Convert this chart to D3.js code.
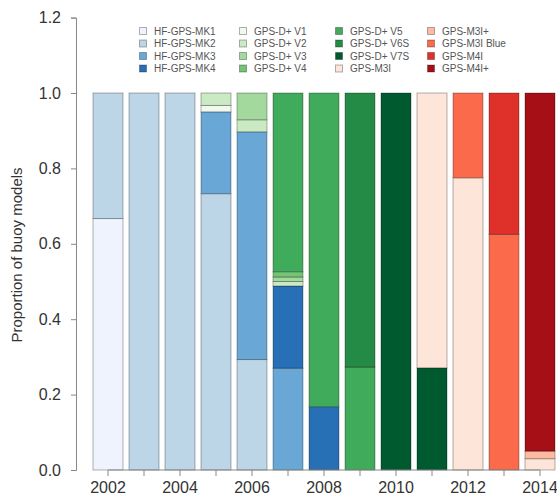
<!DOCTYPE html>
<html>
<head>
<meta charset="utf-8">
<script src="https://cdn.jsdelivr.net/npm/d3@7"></script>
<style>
  body { margin: 0; background: #fff; }
  text { font-family: "Liberation Sans", Arial, sans-serif; }
</style>
</head>
<body>
<div id="chart"></div>
<script>
// Years on the x axis
const years = [2002, 2003, 2004, 2005, 2006, 2007, 2008, 2009, 2010, 2011, 2012, 2013, 2014];
const yearLabels = [2002, 2004, 2006, 2008, 2010, 2012, 2014];
const yTicks = [0, 0.2, 0.4, 0.6, 0.8, 1.0, 1.2];

// Buoy models, stacked from bottom to top in this order
const models = [
  "HF-GPS-MK1", "HF-GPS-MK2", "HF-GPS-MK3", "HF-GPS-MK4",
  "GPS-D+ V1", "GPS-D+ V2", "GPS-D+ V3", "GPS-D+ V4",
  "GPS-D+ V5", "GPS-D+ V6S", "GPS-D+ V7S", "GPS-M3I",
  "GPS-M3I+", "GPS-M3I Blue", "GPS-M4I", "GPS-M4I+"
];
const colors = [
  "#eef3fd", "#bcd6e8", "#69a8d6", "#2870b5",
  "#f0f9ec", "#c9eac2", "#a3d99c", "#74c476",
  "#3fab5b", "#248b46", "#005a30", "#fde5d9",
  "#fcbba1", "#fb6a4a", "#e0302a", "#a50f15"
];

// Proportion of each model per year (one array per model)
const mk1    = [0.667, 0, 0, 0, 0, 0, 0, 0, 0, 0, 0, 0, 0];
const mk2    = [0.333, 1, 1, 0.733, 0.293, 0, 0, 0, 0, 0, 0, 0, 0];
const mk3    = [0, 0, 0, 0.217, 0.604, 0.270, 0, 0, 0, 0, 0, 0, 0];
const mk4    = [0, 0, 0, 0, 0, 0.218, 0.168, 0, 0, 0, 0, 0, 0];
const v1     = [0, 0, 0, 0.017, 0, 0, 0, 0, 0, 0, 0, 0, 0];
const v2     = [0, 0, 0, 0.033, 0.032, 0.012, 0, 0, 0, 0, 0, 0, 0];
const v3     = [0, 0, 0, 0, 0.071, 0.012, 0, 0, 0, 0, 0, 0, 0];
const v4     = [0, 0, 0, 0, 0, 0.014, 0, 0, 0, 0, 0, 0, 0];
const v5     = [0, 0, 0, 0, 0, 0.474, 0.832, 0.273, 0, 0, 0, 0, 0];
const v6s    = [0, 0, 0, 0, 0, 0, 0, 0.727, 0, 0, 0, 0, 0];
const v7s    = [0, 0, 0, 0, 0, 0, 0, 0, 1, 0.271, 0, 0, 0];
const m3i    = [0, 0, 0, 0, 0, 0, 0, 0, 0, 0.729, 0.775, 0, 0.03];
const m3iP   = [0, 0, 0, 0, 0, 0, 0, 0, 0, 0, 0, 0, 0.02];
const m3iB   = [0, 0, 0, 0, 0, 0, 0, 0, 0, 0, 0.225, 0.625, 0];
const m4i    = [0, 0, 0, 0, 0, 0, 0, 0, 0, 0, 0, 0.375, 0];
const m4iP   = [0, 0, 0, 0, 0, 0, 0, 0, 0, 0, 0, 0, 0.95];
const series = [mk1, mk2, mk3, mk4, v1, v2, v3, v4, v5, v6s, v7s, m3i, m3iP, m3iB, m4i, m4iP];

const W = 557, H = 502;
const svg = d3.select("#chart").append("svg")
  .attr("width", W).attr("height", H);

// build table for the stack
const table = years.map((yr, i) => {
  const row = { year: yr };
  models.forEach((m, j) => row[m] = series[j][i]);
  return row;
});
const stacked = d3.stack().keys(models)(table);

const x = d3.scaleBand()
  .domain(years)
  .range([90, 558])
  .paddingInner(1 / 6)
  .paddingOuter(1 / 12);

const y = d3.scaleLinear()
  .domain([0, 1.2])
  .range([470, 17.6]);

// bars
svg.append("g")
  .selectAll("g")
  .data(stacked)
  .join("g")
  .attr("fill", (d, i) => colors[i])
  .selectAll("rect")
  .data(d => d.filter(s => s[1] - s[0] > 0))
  .join("rect")
  .attr("x", d => x(d.data.year))
  .attr("y", d => y(d[1]))
  .attr("width", x.bandwidth())
  .attr("height", d => y(d[0]) - y(d[1]))
  .attr("stroke", "#000")
  .attr("stroke-opacity", 0.3)
  .attr("stroke-width", 1);

// y axis
const yAxis = svg.append("g")
  .attr("transform", "translate(76,0)")
  .call(d3.axisLeft(y).tickValues(yTicks).tickFormat(d3.format(".1f")).tickSize(5).tickPadding(10));
yAxis.select(".domain").attr("stroke", "#888");
yAxis.selectAll(".tick line").attr("stroke", "#888");
yAxis.selectAll(".tick text")
  .attr("font-size", 16)
  .attr("fill", "#333")
  .attr("font-family", "Liberation Sans, Arial, sans-serif");

// x axis
const xAxis = svg.append("g")
  .attr("transform", "translate(0,470)")
  .call(d3.axisBottom(x).tickSize(6).tickPadding(6)
    .tickFormat(d => yearLabels.includes(d) ? d : ""));
xAxis.select(".domain").remove();
xAxis.append("line")
  .attr("x1", x(years[0]) + x.bandwidth() / 2)
  .attr("x2", x(years[years.length - 1]) + x.bandwidth() / 2)
  .attr("stroke", "#888");
xAxis.selectAll(".tick line").attr("stroke", "#888");
xAxis.selectAll(".tick text")
  .attr("font-size", 16)
  .attr("fill", "#333")
  .attr("font-family", "Liberation Sans, Arial, sans-serif");

// y axis title
svg.append("text")
  .attr("transform", "translate(22,255) rotate(-90)")
  .attr("text-anchor", "middle")
  .attr("font-size", 15)
  .attr("fill", "#333")
  .text("Proportion of buoy models");

// legend, 4 columns x 4 rows
const legSymX = [143, 243, 339, 431];
const legRowY = [31, 43.5, 56, 68.5];
const legend = svg.append("g");
models.forEach((m, i) => {
  const col = Math.floor(i / 4), row = i % 4;
  const g = legend.append("g")
    .attr("transform", `translate(${legSymX[col]},${legRowY[row]})`);
  g.append("rect")
    .attr("x", -3.5).attr("y", -3.5)
    .attr("width", 7).attr("height", 7)
    .attr("fill", colors[i])
    .attr("stroke", "#000").attr("stroke-opacity", 0.3);
  g.append("text")
    .attr("x", 11)
    .attr("y", 3.6)
    .attr("font-size", 10)
    .attr("fill", "#555")
    .text(m);
});
</script>
</body>
</html>
